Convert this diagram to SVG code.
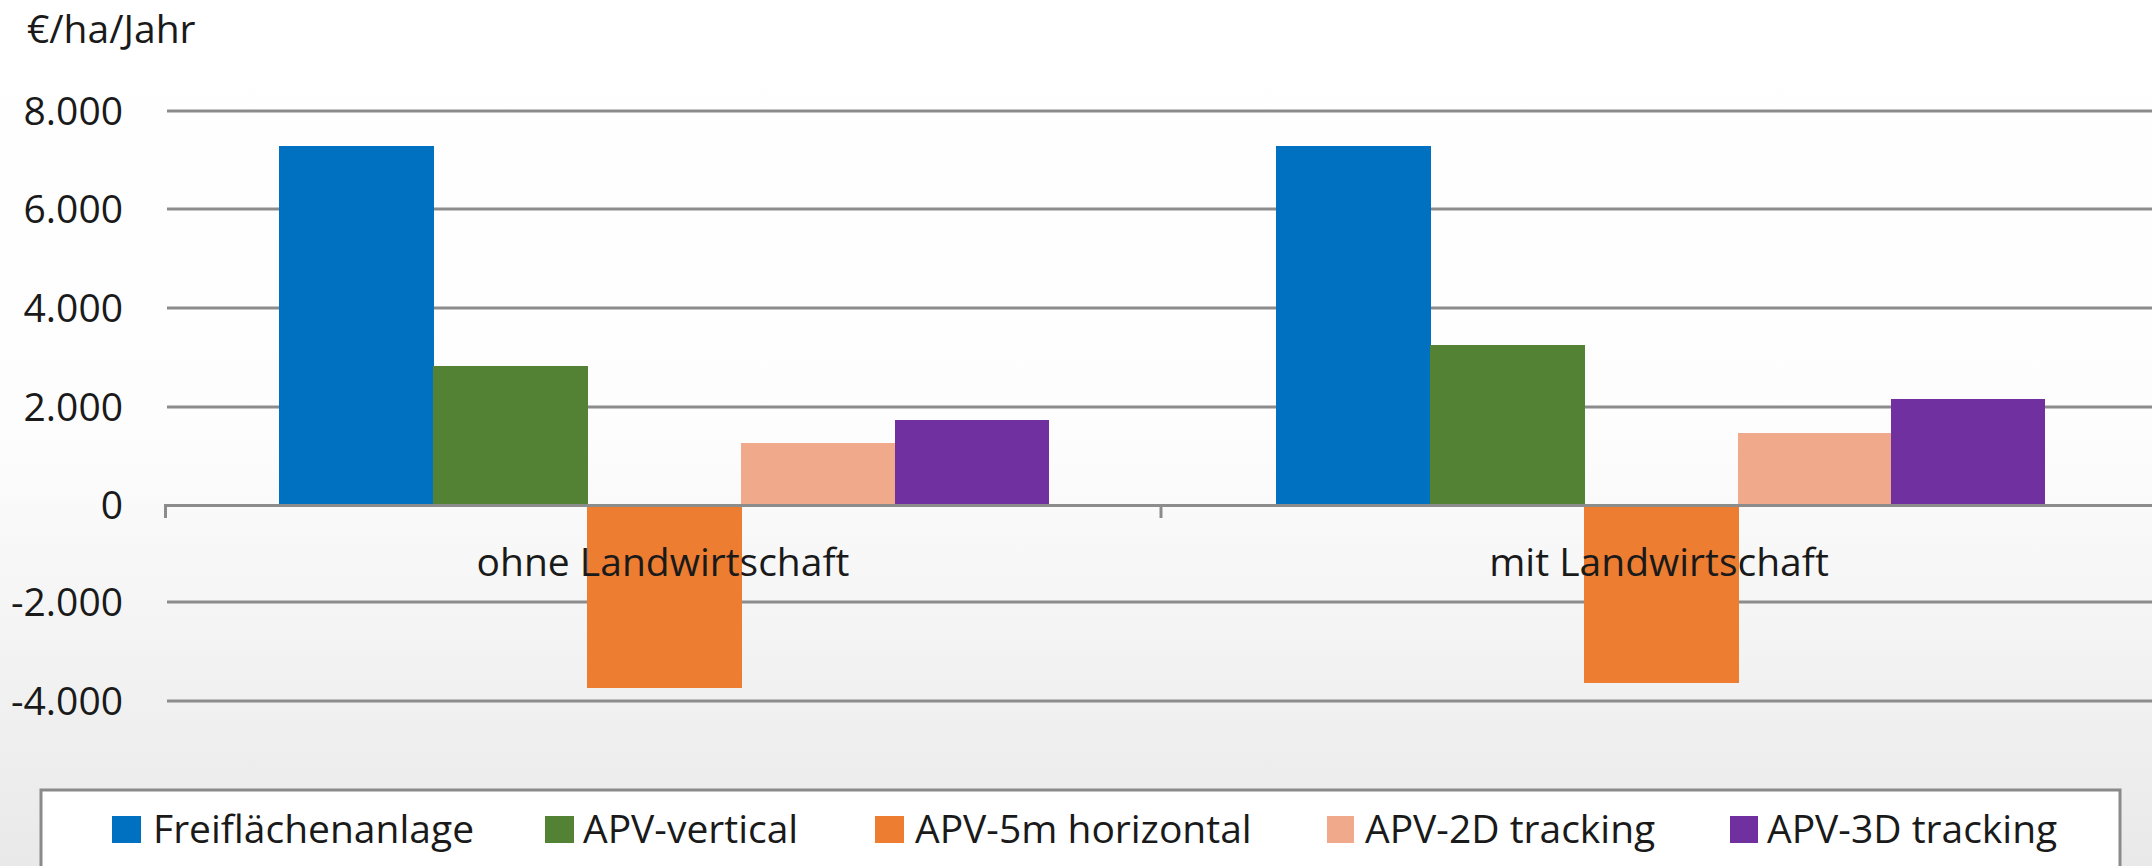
<svg xmlns="http://www.w3.org/2000/svg" width="2152" height="866" viewBox="0 0 2152 866">
<defs>
<linearGradient id="bg" x1="0" y1="0" x2="0" y2="1">
<stop offset="0" stop-color="#ffffff"/>
<stop offset="0.5" stop-color="#fdfdfd"/>
<stop offset="1" stop-color="#e9e9e9"/>
</linearGradient>
</defs>
<style>
text{font-family:"Open Sans","Liberation Sans",sans-serif;font-size:39px;fill:#1a1a1a}
.ylab{text-anchor:end}
.cat{text-anchor:middle}
.grid{stroke:#8c8c8c;stroke-width:3;fill:none}
.blue{fill:#0070c0}
.green{fill:#548235}
.orange{fill:#ed7d31}
.peach{fill:#f0a98a}
.purple{fill:#7030a0}
</style>
<rect x="0" y="0" width="2152" height="866" fill="url(#bg)"/>
<g id="title"><text x="27" y="43">€/ha/Jahr</text></g>
<g id="y-axis">
<text class="ylab" x="123" y="125">8.000</text>
<text class="ylab" x="123" y="223">6.000</text>
<text class="ylab" x="123" y="322">4.000</text>
<text class="ylab" x="123" y="421">2.000</text>
<text class="ylab" x="123" y="519">0</text>
<text class="ylab" x="123" y="616">-2.000</text>
<text class="ylab" x="123" y="715">-4.000</text>
</g>
<g id="gridlines">
<line class="grid" x1="167" y1="111" x2="2152" y2="111"/>
<line class="grid" x1="167" y1="209" x2="2152" y2="209"/>
<line class="grid" x1="167" y1="308" x2="2152" y2="308"/>
<line class="grid" x1="167" y1="407" x2="2152" y2="407"/>
<line class="grid" x1="167" y1="602" x2="2152" y2="602"/>
<line class="grid" x1="167" y1="701" x2="2152" y2="701"/>
</g>
<g id="group-ohne">
<rect class="blue" x="279" y="146" width="155" height="359"/>
<rect class="green" x="433" y="366" width="155" height="139"/>
<rect class="orange" x="587" y="505" width="155" height="183"/>
<rect class="peach" x="741" y="443" width="155" height="62"/>
<rect class="purple" x="895" y="420" width="154" height="85"/>
</g>
<g id="group-mit">
<rect class="blue" x="1276" y="146" width="155" height="359"/>
<rect class="green" x="1430" y="345" width="155" height="160"/>
<rect class="orange" x="1584" y="505" width="155" height="178"/>
<rect class="peach" x="1738" y="433" width="155" height="72"/>
<rect class="purple" x="1891" y="399" width="154" height="106"/>
</g>
<g id="x-axis">
<path class="grid" d="M165.5 518 V505.5 H2152"/>
<line class="grid" x1="1161" y1="505" x2="1161" y2="518"/>
<text class="cat" x="663" y="576">ohne Landwirtschaft</text>
<text class="cat" x="1659" y="576">mit Landwirtschaft</text>
</g>
<g id="legend">
<rect x="41" y="790" width="2079" height="90" fill="#ffffff" stroke="#8a8a8a" stroke-width="3"/>
<rect class="blue" x="112" y="816" width="29" height="27"/>
<text x="153" y="843">Freiflächenanlage</text>
<rect class="green" x="545" y="816" width="29" height="27"/>
<text x="583" y="843">APV-vertical</text>
<rect class="orange" x="875" y="816" width="29" height="27"/>
<text x="915" y="843">APV-5m horizontal</text>
<rect class="peach" x="1327" y="816" width="27" height="27"/>
<text x="1365" y="843">APV-2D tracking</text>
<rect class="purple" x="1730" y="816" width="28" height="27"/>
<text x="1767" y="843">APV-3D tracking</text>
</g>
</svg>
